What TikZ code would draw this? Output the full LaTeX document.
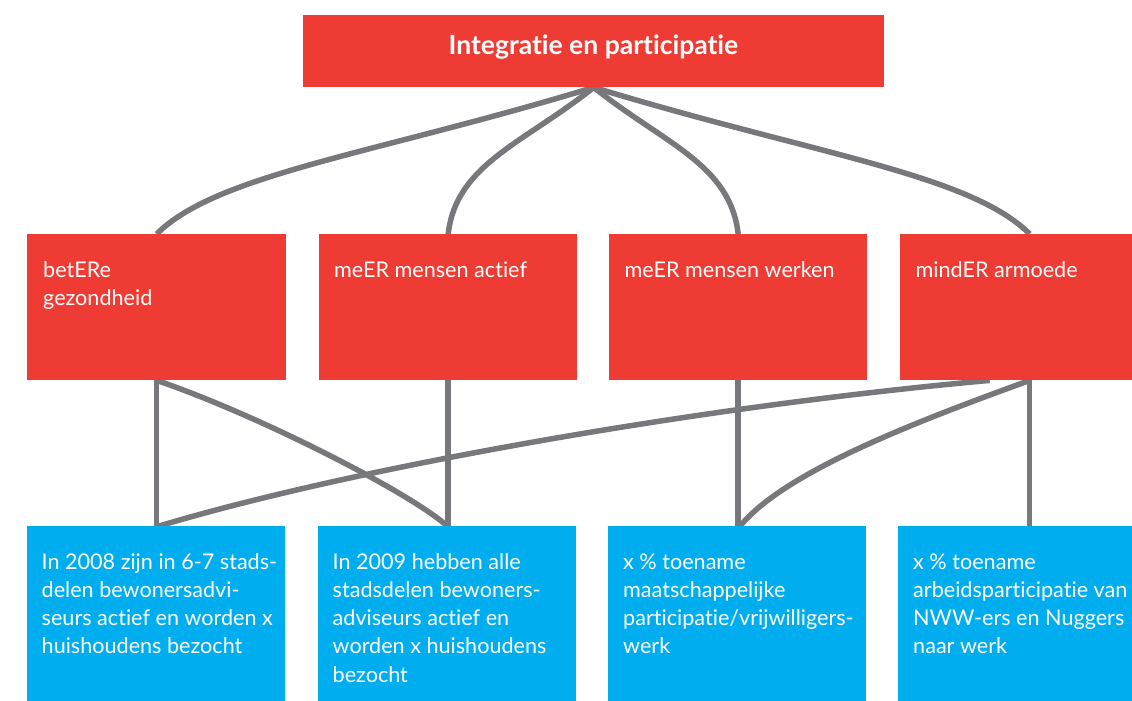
\documentclass[tikz,border=0pt]{standalone}
\usepackage{fontspec}
\setmainfont{Lato}[Ligatures=NoCommon]
\usetikzlibrary{calc}
\definecolor{boxred}{HTML}{EE3B33}
\definecolor{boxblue}{HTML}{00AEEF}
\definecolor{linkgray}{HTML}{77787B}
\pgfdeclarelayer{background}
\pgfsetlayers{background,main}
\newcommand\boxlines[1]{\begin{tabular}[t]{@{}l@{}}#1\end{tabular}}
\tikzset{
  redbox/.style={fill=boxred, draw=none, inner sep=0, anchor=north west, minimum height=146pt, minimum width=259pt},
  bluebox/.style={fill=boxblue, draw=none, inner sep=0, anchor=north west, minimum height=180pt, minimum width=258pt},
  titlebox/.style={fill=boxred, draw=none, inner sep=0, anchor=north west, minimum height=72pt, minimum width=581pt},
  txt/.style={text=white, inner sep=0, anchor=base west, font=\fontsize{21.6}{28.3}\selectfont},
  titletxt/.style={text=white, inner sep=0, anchor=base, font=\bfseries\fontsize{26.5}{30}\selectfont},
  link/.style={draw=linkgray, line width=5.5pt}
}
\begin{document}
\begin{tikzpicture}[x=1pt, y=-1pt]
\useasboundingbox (0,0) rectangle (1132,701);
% boxes
\node[titlebox] (top) at (303,15) {};
\node[redbox] (r1) at (27,234) {};
\node[redbox, minimum width=258pt] (r2) at (319,234) {};
\node[redbox, minimum width=258pt] (r3) at (609,234) {};
\node[redbox] (r4) at (900,234) {};
\node[bluebox] (b1) at (27,526) {};
\node[bluebox] (b2) at (318,526) {};
\node[bluebox] (b3) at (608,526) {};
\node[bluebox] (b4) at (898,526) {};
% texts
\node[titletxt] (toptext) at (593.5,55) {Integratie en participatie};
\node[txt] (r1t) at (43,277) {\boxlines{betERe\\gezondheid}};
\node[txt] (r2t) at (334,277) {\boxlines{meER mensen actief}};
\node[txt] (r3t) at (624.5,277) {\boxlines{meER mensen werken}};
\node[txt] (r4t) at (915.5,277) {\boxlines{mindER armoede}};
\node[txt] (b1t) at (41.5,569) {\boxlines{In 2008 zijn in 6-7 stads-\\delen bewonersadvi-\\seurs actief en worden x\\huishoudens bezocht}};
\node[txt] (b2t) at (332.5,569) {\boxlines{In 2009 hebben alle\\stadsdelen bewoners-\\adviseurs actief en\\worden x huishoudens\\bezocht}};
\node[txt] (b3t) at (623,569) {\boxlines{x \% toename\\maatschappelijke\\participatie/vrijwilligers-\\werk}};
\node[txt] (b4t) at (913,569) {\boxlines{x \% toename\\arbeidsparticipatie van\\NWW-ers en Nuggers\\naar werk}};
% connectors
\begin{pgfonlayer}{background}
\draw[link] (top.south) .. controls +(-220,67) and +(60,-60) .. (r1.north);
\draw[link] (top.south) .. controls +(-70,56) and +(8,-70) .. (r2.north);
\draw[link] (top.south) .. controls +(70,56) and +(-8,-70) .. (r3.north);
\draw[link] (top.south) .. controls +(220,67) and +(-60,-60) .. (r4.north);
\draw[link] (r1.south) -- (r1.south |- b1.north);
\draw[link] (r1.south) .. controls +(100,34) and +(-38,-34) .. (b2.north);
\draw[link] (r2.south) -- (r2.south |- b2.north);
\draw[link] (r3.south) -- (r3.south |- b3.north);
\draw[link] ([xshift=-40pt]r4.south) .. controls +(-280,25) and +(200,-60) .. ([xshift=3pt]b1.north);
\draw[link] (r4.south) .. controls +(-110,40) and +(45,-55) .. ([xshift=3pt]b3.north);
\draw[link] (r4.south) -- (r4.south |- b4.north);
\end{pgfonlayer}
\end{tikzpicture}
\end{document}
